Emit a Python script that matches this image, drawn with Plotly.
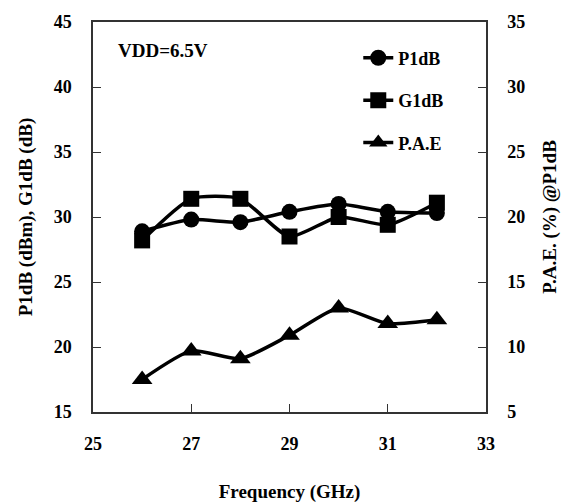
import plotly.graph_objects as go

# Measured power performance across frequency
freq_ghz = [26, 27, 28, 29, 30, 31, 32]
p1db_dbm = [28.9, 29.8, 29.6, 30.4, 31.0, 30.4, 30.3]
g1db_db = [28.2, 31.4, 31.4, 28.5, 30.0, 29.4, 31.1]
pae_pct = [7.5, 9.7, 9.1, 10.9, 13.0, 11.8, 12.1]

x_ticks = [25, 27, 29, 31, 33]
left_ticks = [15, 20, 25, 30, 35, 40, 45]
right_ticks = [5, 10, 15, 20, 25, 30, 35]

FONT = "Liberation Serif"
INK = "black"

line_style = dict(color=INK, width=3.5, shape="spline", smoothing=0.6)

fig = go.Figure()
fig.add_trace(go.Scatter(
    x=freq_ghz, y=p1db_dbm, name="P1dB", mode="lines+markers",
    line=line_style, marker=dict(symbol="circle", size=16, color=INK),
    legendgroup="a",
))
fig.add_trace(go.Scatter(
    x=freq_ghz, y=g1db_db, name="G1dB", mode="lines+markers",
    line=line_style, marker=dict(symbol="square", size=16, color=INK),
    legendgroup="b",
))
fig.add_trace(go.Scatter(
    x=freq_ghz, y=pae_pct, name="P.A.E", mode="lines+markers", yaxis="y2",
    line=line_style, marker=dict(symbol="triangle-up", size=18, color=INK),
    legendgroup="c",
))

tick_font = dict(family=FONT, size=18, color=INK, weight="bold")
title_font = dict(family=FONT, size=19, color=INK, weight="bold")
axis_common = dict(
    showline=True, linecolor="#333333", linewidth=1.5,
    ticks="inside", ticklen=8, tickwidth=1, tickcolor="#333333",
    showgrid=False, zeroline=False, tickfont=tick_font, automargin=False,
)

fig.update_layout(
    width=562, height=503,
    margin=dict(l=93, r=76, t=22, b=91),
    paper_bgcolor="white", plot_bgcolor="white",
    font=dict(family=FONT, color=INK),
    showlegend=True,
    legend=dict(
        x=0.675, xanchor="left", y=0.955, yanchor="top",
        bgcolor="rgba(0,0,0,0)", borderwidth=0,
        font=dict(family=FONT, size=18, color=INK, weight="bold"),
        tracegroupgap=16, traceorder="grouped",
    ),
    xaxis=dict(
        range=[25, 33], tickvals=x_ticks, mirror=True,
        ticklabelstandoff=15,
        title=dict(text="Frequency (GHz)", standoff=32, font=title_font),
        **axis_common,
    ),
    yaxis=dict(
        range=[15, 45], tickvals=left_ticks,
        ticklabelstandoff=16,
        title=dict(text="P1dB (dBm), G1dB (dB)", standoff=16, font=title_font),
        **axis_common,
    ),
    yaxis2=dict(
        range=[5, 35], tickvals=right_ticks, overlaying="y", side="right",
        ticklabelstandoff=16,
        title=dict(text="P.A.E. (%) @P1dB", standoff=18, font=title_font),
        **axis_common,
    ),
    annotations=[dict(
        text="VDD=6.5V", xref="paper", yref="paper", x=0.058, y=0.928,
        xanchor="left", yanchor="middle", showarrow=False,
        font=dict(family=FONT, size=19, color=INK, weight="bold"),
    )],
)

fig.write_html("out.html")
